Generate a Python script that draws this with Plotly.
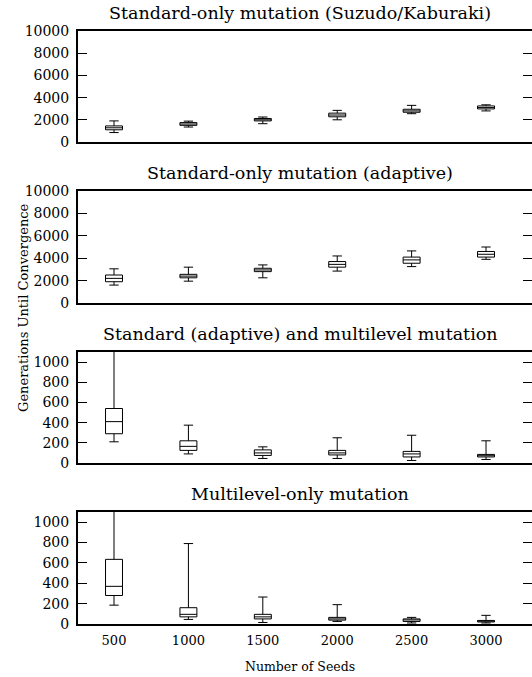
import plotly.graph_objects as go

seeds = [500, 1000, 1500, 2000, 2500, 3000]

titles = [
    "Standard-only mutation (Suzudo/Kaburaki)",
    "Standard-only mutation (adaptive)",
    "Standard (adaptive) and multilevel mutation",
    "Multilevel-only mutation",
]

# panel 1: Standard-only (Suzudo/Kaburaki)
p1_low = [850, 1350, 1650, 2000, 2550, 2800]
p1_q1 = [1100, 1500, 1900, 2270, 2680, 2980]
p1_med = [1280, 1620, 2000, 2430, 2800, 3100]
p1_q3 = [1450, 1750, 2120, 2600, 2950, 3250]
p1_up = [1900, 1880, 2250, 2850, 3300, 3350]

# panel 2: Standard-only (adaptive)
p2_low = [1600, 1950, 2250, 2850, 3250, 3900]
p2_q1 = [1900, 2250, 2800, 3200, 3550, 4100]
p2_med = [2200, 2400, 2950, 3450, 3850, 4350]
p2_q3 = [2500, 2560, 3100, 3700, 4100, 4600]
p2_up = [3050, 3200, 3400, 4200, 4650, 5000]

# panel 3: Standard (adaptive) and multilevel
p3_low = [210, 90, 45, 45, 25, 35]
p3_q1 = [290, 125, 75, 80, 60, 60]
p3_med = [410, 165, 100, 100, 90, 72]
p3_q3 = [540, 220, 130, 125, 115, 85]
p3_up = [1800, 375, 160, 250, 275, 220]

# panel 4: Multilevel-only
p4_low = [185, 45, 15, 25, 10, 10]
p4_q1 = [280, 70, 50, 38, 25, 20]
p4_med = [370, 95, 70, 50, 40, 28]
p4_q3 = [635, 160, 95, 65, 50, 35]
p4_up = [1800, 790, 265, 190, 65, 85]

panels = [
    (p1_low, p1_q1, p1_med, p1_q3, p1_up),
    (p2_low, p2_q1, p2_med, p2_q3, p2_up),
    (p3_low, p3_q1, p3_med, p3_q3, p3_up),
    (p4_low, p4_q1, p4_med, p4_q3, p4_up),
]

y_ranges = [[0, 10000], [0, 10000], [0, 1100], [0, 1100]]
y_ticks = [list(range(0, 10001, 2000))] * 2 + [list(range(0, 1001, 200))] * 2

W, H = 532, 677
L = 78
# panel vertical pixel extents (top, bottom)
pix = [(31, 142), (191, 303), (352, 463), (512, 624)]
domains = [[1 - b / H, 1 - t / H] for t, b in pix]

FONT = "DejaVu Serif, Liberation Serif, serif"
fig = go.Figure()

for i, (lo, q1, med, q3, up) in enumerate(panels):
    n = i + 1
    xa = "x" if n == 1 else f"x{n}"
    ya = "y" if n == 1 else f"y{n}"
    fig.add_trace(go.Box(
        x=seeds, q1=q1, median=med, q3=q3, lowerfence=lo, upperfence=up,
        xaxis=xa, yaxis=ya, width=114, whiskerwidth=0.55,
        line=dict(color="black", width=1), fillcolor="white",
        boxpoints=False, showlegend=False, hoverinfo="skip",
    ))
    # right-side tick axis (overlay)
    fig.add_trace(go.Scatter(x=[], y=[], xaxis=xa, yaxis=f"y{n + 4}",
                             showlegend=False))

    xkey = "xaxis" if n == 1 else f"xaxis{n}"
    ykey = "yaxis" if n == 1 else f"yaxis{n}"
    fig.layout[xkey] = dict(
        domain=[0, 1], anchor=ya, range=[258, 3309], automargin=False,
        tickvals=seeds, ticktext=[str(s) for s in seeds],
        showticklabels=(n == 4), ticks="",
        showline=True, mirror=True, linewidth=2, linecolor="black",
        showgrid=False, zeroline=False,
        tickfont=dict(family=FONT, size=13, color="black"),
        ticklabelstandoff=3,
    )
    fig.layout[ykey] = dict(
        domain=domains[i], anchor=xa, range=y_ranges[i], automargin=False,
        tickvals=y_ticks[i], ticktext=[str(v) for v in y_ticks[i]],
        ticks="inside", ticklen=9, tickwidth=1.2,
        tickcolor="black", showline=True, linewidth=2, linecolor="black",
        showgrid=False, zeroline=False,
        tickfont=dict(family=FONT, size=14, color="black"),
        ticklabelstandoff=4,
    )
    fig.layout[f"yaxis{n + 4}"] = dict(
        overlaying=ya, anchor=xa, side="right", range=y_ranges[i],
        automargin=False,
        tickvals=y_ticks[i], ticks="inside", ticklen=9, tickwidth=1.2,
        tickcolor="black", showline=False, showgrid=False, zeroline=False,
        showticklabels=False,
    )

annotations = []
title_x = (300 - L) / (W - L)
for i, t in enumerate(titles):
    top = pix[i][0]
    annotations.append(dict(
        text=t, x=title_x, y=1 - (top - 18) / H, xref="paper", yref="paper",
        showarrow=False, xanchor="center", yanchor="middle",
        font=dict(family=FONT, size=17.5, color="black"),
    ))
annotations.append(dict(
    text="Number of Seeds", x=title_x, y=1 - 666 / H, xref="paper", yref="paper",
    showarrow=False, xanchor="center", yanchor="middle",
    font=dict(family=FONT, size=12.5, color="black"),
))
annotations.append(dict(
    text="Generations Until Convergence", x=(23 - L) / (W - L), y=1 - 308 / H,
    xref="paper", yref="paper", showarrow=False, textangle=-90,
    xanchor="center", yanchor="middle",
    font=dict(family=FONT, size=13, color="black"),
))

fig.update_layout(
    width=W, height=H,
    margin=dict(l=L, r=0, t=0, b=0, autoexpand=False),
    paper_bgcolor="white", plot_bgcolor="white",
    annotations=annotations,
    showlegend=False,
)

fig.write_html("out.html")
